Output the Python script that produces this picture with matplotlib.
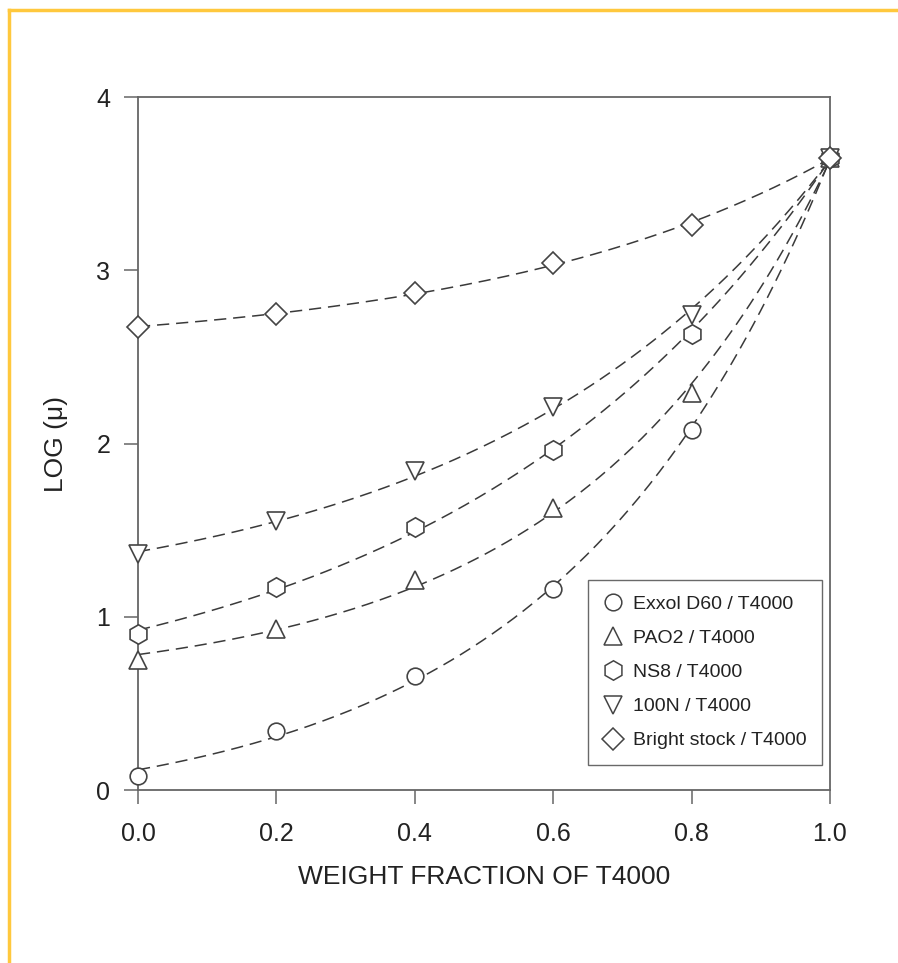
import matplotlib.pyplot as plt
import numpy as np
from matplotlib.lines import Line2D

plt.rcParams['font.family'] = ['Liberation Sans', 'DejaVu Sans']

# weight fraction of T4000
frac = [0.0, 0.2, 0.4, 0.6, 0.8, 1.0]

exxol = [0.08, 0.34, 0.66, 1.16, 2.08, 3.65]
pao2 = [0.75, 0.93, 1.21, 1.63, 2.29, 3.65]
ns8 = [0.90, 1.17, 1.52, 1.96, 2.63, 3.65]
n100 = [1.36, 1.55, 1.84, 2.21, 2.74, 3.65]
bright = [2.67, 2.75, 2.87, 3.04, 3.26, 3.65]

labels = ["Exxol D60 / T4000", "PAO2 / T4000", "NS8 / T4000",
          "100N / T4000", "Bright stock / T4000"]
markers = ["o", "^", "h", "v", "D"]
sizes = [12, 13, 14, 13, 11]
series = [exxol, pao2, ns8, n100, bright]

INK = "#3a3a3a"
EDGE = "#444444"


def exp_fit(x, y):
    # y = a + b*exp(c*x), least squares over a grid of c
    x, y = np.asarray(x), np.asarray(y)
    best = None
    for c in np.linspace(0.05, 12, 2400):
        A = np.column_stack([np.ones_like(x), np.exp(c * x)])
        coef, *_ = np.linalg.lstsq(A, y, rcond=None)
        r = np.sum((A @ coef - y) ** 2)
        if best is None or r < best[0]:
            best = (r, coef, c)
    _, (a, b), c = best
    return lambda t: a + b * np.exp(c * t)


fig = plt.figure(figsize=(8.98, 9.63), dpi=100)
ax = fig.add_axes([138 / 898, 1 - 790 / 963, 692 / 898, 693 / 963])

xs = np.linspace(0, 1, 200)
for y in series:
    f = exp_fit(frac, y)
    ax.plot(xs, f(xs), color=INK, lw=1.1, dashes=(8, 4.5), zorder=2)
for y, m, ms in zip(series, markers, sizes):
    ax.plot(frac, y, ls="none", marker=m, ms=ms, mfc="white", mec=EDGE,
            mew=1.2, clip_on=False, zorder=3)

ax.set_xlim(0, 1)
ax.set_ylim(0, 4)
ax.set_xticks([0.0, 0.2, 0.4, 0.6, 0.8, 1.0])
ax.set_xticklabels(["0.0", "0.2", "0.4", "0.6", "0.8", "1.0"])
ax.set_yticks([0, 1, 2, 3, 4])
ax.tick_params(direction="out", length=10, width=1.1, color="#666666",
               labelsize=18, labelcolor="#222222")
ax.tick_params(axis="x", pad=13)
ax.tick_params(axis="y", pad=10)
for s in ax.spines.values():
    s.set_color("#666666")
    s.set_linewidth(1.3)

ax.set_xlabel("WEIGHT FRACTION OF T4000", fontsize=19, color="#222222",
              labelpad=14)
ax.set_ylabel("LOG (\u03bc)", fontsize=19, color="#222222", labelpad=20)

handles = [Line2D([], [], ls="none", marker=m, ms=ms, mfc="white", mec=EDGE,
                  mew=1.1) for m, ms in zip(markers, sizes)]
leg = ax.legend(handles, labels, loc="lower right",
                bbox_to_anchor=(0.988, 0.036), borderaxespad=0,
                fontsize=14, frameon=True, fancybox=False, edgecolor="#444444",
                handlelength=1.0, handletextpad=0.5, labelspacing=0.85,
                borderpad=0.8)
leg.get_frame().set_linewidth(1.0)
for t in leg.get_texts():
    t.set_color("#222222")

# yellow frame on the page
fig.add_artist(Line2D([9 / 898, 9 / 898], [0, 1 - 10 / 963],
                      transform=fig.transFigure, color="#FFC83D", lw=2.5))
fig.add_artist(Line2D([9 / 898, 1], [1 - 10 / 963, 1 - 10 / 963],
                      transform=fig.transFigure, color="#FFC83D", lw=2.5))

fig.savefig("out.png", dpi=100)
